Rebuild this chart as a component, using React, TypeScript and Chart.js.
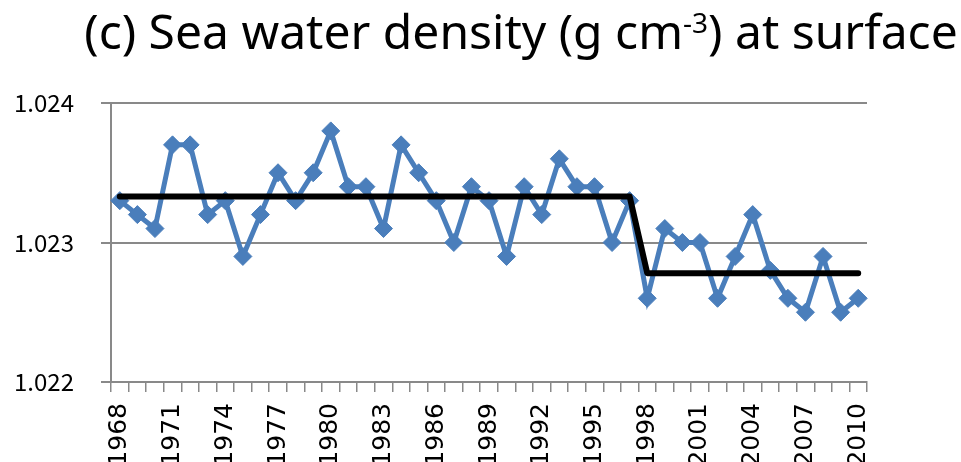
import React, { useEffect, useRef } from "react";
import { Chart, registerables } from "chart.js";

Chart.register(...registerables);

const years: string[] = [
  "1968","1969","1970","1971","1972","1973","1974","1975","1976","1977",
  "1978","1979","1980","1981","1982","1983","1984","1985","1986","1987",
  "1988","1989","1990","1991","1992","1993","1994","1995","1996","1997",
  "1998","1999","2000","2001","2002","2003","2004","2005","2006","2007",
  "2008","2009","2010",
];

const density: number[] = [
  1.0233, 1.0232, 1.0231, 1.0237, 1.0237, 1.0232, 1.0233, 1.0229, 1.0232, 1.0235,
  1.0233, 1.0235, 1.0238, 1.0234, 1.0234, 1.0231, 1.0237, 1.0235, 1.0233, 1.0230,
  1.0234, 1.0233, 1.0229, 1.0234, 1.0232, 1.0236, 1.0234, 1.0234, 1.0230, 1.0233,
  1.0226, 1.0231, 1.0230, 1.0230, 1.0226, 1.0229, 1.0232, 1.0228, 1.0226, 1.0225,
  1.0229, 1.0225, 1.0226,
];

// Regime means (step line): before and from the shift year
const shiftYear = "1998";
const meanBefore = 1.02333;
const meanAfter = 1.02278;

const yTicks: number[] = [1.022, 1.023, 1.024];

const titleParts = { before: "(c) Sea water density (g cm", sup: "-3", after: ") at surface" };

const FONT = "'Noto Sans', sans-serif";
const YFONT = "'Noto Sans CJK KR', 'Noto Sans', sans-serif";
const XFONT = "'DejaVu Sans', sans-serif";

const titlePlugin = {
  id: "supTitle",
  afterDraw(chart: any) {
    const ctx = chart.ctx as CanvasRenderingContext2D;
    ctx.save();
    const big = `48px ${FONT}`;
    const small = `28px ${FONT}`;
    ctx.font = big;
    const w1 = ctx.measureText(titleParts.before).width;
    const w3 = ctx.measureText(titleParts.after).width;
    ctx.font = small;
    const w2 = ctx.measureText(titleParts.sup).width;
    const total = w1 + w2 + w3;
    const cx = 521;
    let x = cx - total / 2;
    const baseline = 49;
    ctx.fillStyle = "#000";
    ctx.textBaseline = "alphabetic";
    ctx.textAlign = "left";
    ctx.font = big;
    ctx.fillText(titleParts.before, x, baseline);
    x += w1;
    ctx.font = small;
    ctx.fillText(titleParts.sup, x, baseline - 16);
    x += w2;
    ctx.font = big;
    ctx.fillText(titleParts.after, x, baseline);
    ctx.restore();
  },
};

export default function App() {
  const ref = useRef<HTMLCanvasElement | null>(null);
  useEffect(() => {
    if (!ref.current) return;
    const shiftIdx = years.indexOf(shiftYear);
    const stepLine = years.map((_, i) => (i < shiftIdx ? meanBefore : meanAfter));
    const chart = new Chart(ref.current, {
      type: "line",
      data: {
        labels: years,
        datasets: [
          {
            label: "Step",
            data: stepLine,
            borderColor: "#000000",
            borderWidth: 6,
            borderCapStyle: "round",
            borderJoinStyle: "round",
            pointRadius: 0,
            order: 0,
            tension: 0,
          },
          {
            label: "Density",
            data: density,
            borderColor: "#4A7EBB",
            backgroundColor: "#4A7EBB",
            borderWidth: 5,
            pointStyle: "rectRot",
            pointRadius: 9,
            pointBorderWidth: 1,
            pointBorderColor: "#4A7EBB",
            pointBackgroundColor: "#4A7EBB",
            order: 1,
            tension: 0,
          },
        ],
      },
      options: {
        animation: false,
        responsive: false,
        maintainAspectRatio: false,
        layout: { padding: { top: 103, right: 94, left: 0, bottom: 0 } },
        plugins: { legend: { display: false }, tooltip: { enabled: false }, title: { display: false } },
        scales: {
          x: {
            type: "category",
            offset: true,
            grid: {
              offset: true,
              drawOnChartArea: false,
              drawTicks: true,
              tickLength: 10,
              color: "#898989",
              lineWidth: 1.5,
            },
            border: { display: true, color: "#898989", width: 2 },
            ticks: {
              autoSkip: false,
              maxRotation: 90,
              minRotation: 90,
              padding: 11,
              color: "#000",
              font: { family: XFONT, size: 25 },
              callback: (_v: any, i: number) => (i % 3 === 0 ? years[i] : ""),
            },
            afterFit: (s: any) => { s.height = 80; },
          },
          y: {
            min: 1.022,
            max: 1.024,
            afterBuildTicks: (s: any) => { s.ticks = yTicks.map((v) => ({ value: v })); },
            grid: { color: "#898989", lineWidth: 2, tickLength: 10 },
            border: { display: true, color: "#898989", width: 2 },
            ticks: {
              padding: 27,
              color: "#000",
              font: { family: YFONT, size: 24 },
              callback: (v: any) => Number(v).toFixed(3),
            },
            afterFit: (s: any) => { s.width = 111; },
          },
        },
      },
      plugins: [titlePlugin],
    });
    return () => chart.destroy();
  }, []);
  return (
    <div style={{ position: "fixed", left: 0, top: 0, width: 961, height: 462, background: "#fff" }}>
      <canvas ref={ref} width={961} height={462} style={{ width: 961, height: 462 }} />
    </div>
  );
}
